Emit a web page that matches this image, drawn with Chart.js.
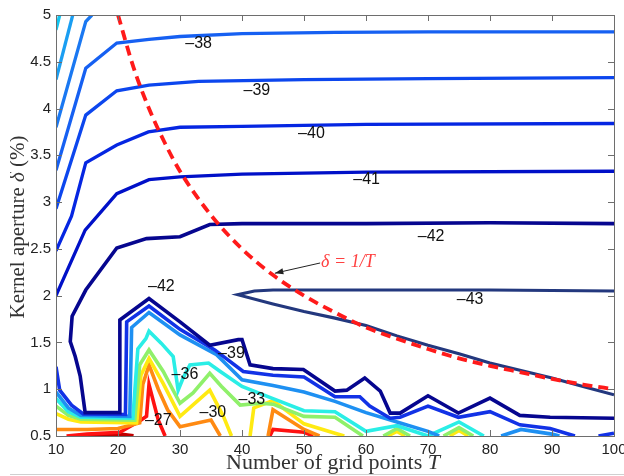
<!DOCTYPE html>
<html>
<head>
<meta charset="utf-8">
<script src="https://cdn.jsdelivr.net/npm/chart.js@4.4.1/dist/chart.umd.min.js"></script>
<style>
  html, body { margin: 0; padding: 0; background: #fff; }
  #wrap { width: 624px; height: 476px; position: relative; }
</style>
</head>
<body>
<div id="wrap"><canvas id="chartjs"></canvas></div>
<script>
// axis ticks
const xTicks = [10, 20, 30, 40, 50, 60, 70, 80, 90, 100];
const yTicks = [0.5, 1, 1.5, 2, 2.5, 3, 3.5, 4, 4.5, 5];
const yTickLabels = ["0.5", "1", "1.5", "2", "2.5", "3", "3.5", "4", "4.5", "5"];

// contour lines, [T, delta] pairs
const fan35 = [[10, 4.84], [10.6, 5.0]];
const fan36 = [[10, 4.31], [12.7, 5.0]];
const fan37 = [[10, 3.80], [14.8, 4.93], [15.8, 5.0]];
const top38 = [[10, 3.34], [14.8, 4.43], [19.8, 4.70], [25, 4.74], [30, 4.77], [40, 4.80], [55, 4.815], [70, 4.82], [100, 4.82]];
const top39 = [[10, 2.93], [14.8, 3.93], [19.8, 4.19], [25, 4.25], [33, 4.29], [50, 4.31], [70, 4.32], [100, 4.33]];
const top40 = [[10, 2.48], [12.5, 2.85], [14.8, 3.42], [19.8, 3.61], [24.9, 3.75], [30, 3.80], [40, 3.81], [60, 3.83], [100, 3.84]];
const top41 = [[10, 2.0], [14.7, 2.70], [19.8, 3.09], [25, 3.24], [30, 3.27], [40, 3.30], [60, 3.32], [100, 3.33]];
const line42 = [[100, 0.69], [89.7, 0.70], [84.8, 0.72], [80, 0.905], [74.9, 0.745], [70, 0.93], [65.5, 0.745], [63.9, 0.745],
  [62.3, 0.98], [59.8, 1.12], [56.9, 0.99], [55, 0.98], [49.9, 1.21], [45, 1.22], [41.3, 1.26], [40, 1.53], [39.4, 1.53],
  [34.8, 1.47], [30, 1.72], [25, 1.97], [20.3, 1.74], [20.3, 0.75], [14.7, 0.75], [13.9, 1.14], [13.1, 1.35], [12.3, 1.51],
  [12.6, 1.78], [14.8, 2.06], [19.8, 2.51], [24.6, 2.61], [30, 2.63], [34.8, 2.76], [40, 2.77], [60, 2.77], [80, 2.78], [100, 2.77]];
const line43 = [[100, 2.05], [80, 2.06], [60, 2.06], [45, 2.06], [42, 2.05], [39.3, 2.01], [45, 1.91], [50, 1.83], [55, 1.76],
  [60, 1.68], [65, 1.57], [70, 1.47], [75, 1.38], [80, 1.28], [85, 1.20], [90, 1.12], [95, 1.03], [100, 0.94]];
const low41 = [[10, 1.24], [10.6, 0.99], [12.5, 0.83], [14.4, 0.735], [21.2, 0.73], [21.4, 1.72], [25, 1.89], [30, 1.64],
  [35.6, 1.42], [40.2, 1.19], [45, 1.15], [50, 1.13], [55, 0.92], [59, 0.92], [60.6, 0.82], [63.9, 0.69], [65.5, 0.70],
  [70, 0.82], [74.9, 0.70], [80, 0.76], [84.8, 0.62], [89.7, 0.58], [93.7, 0.5]];
const low41b = [[97.5, 0.5], [100, 0.53]];
const low39 = [[10, 0.97], [12, 0.80], [14, 0.72], [21.9, 0.71], [22.2, 1.66], [25, 1.82], [30, 1.58], [35.9, 1.37], [40, 1.10],
  [45, 1.04], [50, 0.97], [55, 0.87], [60, 0.75], [65, 0.65], [70, 0.55], [71.8, 0.5]];
const low39b = [[81.8, 0.5], [85, 0.57], [90, 0.52], [91.2, 0.5]];
const low36 = [[10, 0.90], [12, 0.76], [14, 0.70], [22.4, 0.69], [23.2, 1.43], [24.5, 1.54], [25, 1.62], [27, 1.49], [28.9, 1.35],
  [29.7, 0.99], [30.5, 1.12], [31.6, 1.26], [34.6, 1.28], [36.5, 1.19], [40, 1.03], [45, 0.90], [50, 0.77], [55, 0.76],
  [60, 0.55], [65, 0.61], [70, 0.5], [75, 0.65], [79, 0.5]];
const low33 = [[10, 0.82], [12, 0.72], [14, 0.68], [22.7, 0.67], [23.5, 1.26], [25, 1.42], [27.3, 1.19], [30, 0.85], [32.1, 0.96],
  [34.8, 1.17], [36.7, 1.03], [39.7, 0.83], [42.9, 0.85], [45, 0.84], [50, 0.71], [55, 0.70], [59.5, 0.5]];
const low33b = [[62.8, 0.5], [65, 0.58], [67.1, 0.5]];
const low33c = [[72.5, 0.5], [75, 0.59], [77.3, 0.5]];
const low31 = [[10, 0.74], [12, 0.68], [14, 0.65], [23, 0.64], [23.7, 1.15], [25, 1.33], [27.3, 1.06], [30, 0.71], [34.8, 0.99],
  [37, 0.71], [38.3, 0.5]];
const low31b = [[41.3, 0.5], [41.9, 0.80], [45, 0.88], [50, 0.63], [55, 0.53], [56.5, 0.5]];
const low31c = [[63.5, 0.5], [65, 0.55], [66.3, 0.5]];
const low31d = [[73.5, 0.5], [75, 0.56], [76.5, 0.5]];
const low30 = [[10, 0.57], [15, 0.57], [20, 0.58], [23.5, 0.64], [24, 1.05], [25, 1.26], [26.5, 1.0], [28, 0.78], [30, 0.6],
  [35, 0.67], [36.5, 0.5]];
const low30b = [[44.2, 0.5], [45, 0.78], [50, 0.57], [52.5, 0.5]];
const low27 = [[11.7, 0.5], [15, 0.52], [20.3, 0.54], [23.5, 0.66], [24.6, 0.71], [25, 1.05], [26.5, 0.67], [27.6, 0.5]];
const low27b = [[44.5, 0.5], [45, 0.57], [50, 0.54], [51.5, 0.5]];
const low26 = [[14, 0.5], [17, 0.52], [20, 0.52], [22.5, 0.5]];

// delta = 1/T guide
const guideT = [20, 22.5, 25, 27.5, 30, 35, 40, 45, 50, 55, 60, 65, 70, 75, 80, 85, 90, 95, 100];
const guideD = [5.0, 4.44, 4.0, 3.64, 3.33, 2.86, 2.5, 2.22, 2.0, 1.82, 1.66, 1.54, 1.43, 1.33, 1.25, 1.18, 1.11, 1.05, 1.0];

// contour labels
const labelText = ["\u201338", "\u201339", "\u201340", "\u201341", "\u201342", "\u201343", "\u201342", "\u201339", "\u201336", "\u201333", "\u201330", "\u201327"];
const labelT = [33.0, 42.4, 51.2, 60.1, 70.5, 76.8, 27.0, 38.3, 30.8, 41.6, 35.3, 26.5];
const labelD = [4.69, 4.19, 3.73, 3.24, 2.63, 1.955, 2.10, 1.38, 1.16, 0.89, 0.75, 0.665];

const noteText = "\u03b4 = 1/T";
const noteAt = [52.6, 2.36];
const arrowTip = [45.3, 2.24];

const toXY = (pts) => pts.map((p) => ({ x: p[0], y: p[1] }));

const contour = (pts, color, width) => ({
  data: toXY(pts),
  borderColor: color,
  borderWidth: width || 3.6,
  showLine: true,
  pointRadius: 0,
  tension: 0,
  fill: false,
  order: 2
});

const overlay = {
  id: "overlay",
  afterDatasetsDraw(chart) {
    const { ctx, chartArea: a, scales: { x, y } } = chart;
    ctx.save();
    // labels
    ctx.fillStyle = "#111";
    ctx.font = "16px 'Liberation Sans', Arial, sans-serif";
    ctx.textAlign = "center";
    ctx.textBaseline = "middle";
    labelText.forEach((t, i) => {
      ctx.fillText(t, x.getPixelForValue(labelT[i]), y.getPixelForValue(labelD[i]));
    });
    // annotation
    const nx = x.getPixelForValue(noteAt[0]);
    const ny = y.getPixelForValue(noteAt[1]);
    ctx.fillStyle = "#ff4040";
    ctx.font = "italic 18px 'Liberation Serif', 'Times New Roman', serif";
    ctx.textAlign = "left";
    ctx.fillText(noteText, nx + 1, ny);
    const tx = x.getPixelForValue(arrowTip[0]);
    const ty = y.getPixelForValue(arrowTip[1]);
    ctx.strokeStyle = "#222";
    ctx.fillStyle = "#222";
    ctx.lineWidth = 1;
    ctx.beginPath();
    ctx.moveTo(nx, ny + 1);
    ctx.lineTo(tx, ty);
    ctx.stroke();
    const ang = Math.atan2(ty - ny - 1, tx - nx);
    ctx.beginPath();
    ctx.moveTo(tx, ty);
    ctx.lineTo(tx - 9 * Math.cos(ang - 0.35), ty - 9 * Math.sin(ang - 0.35));
    ctx.lineTo(tx - 9 * Math.cos(ang + 0.35), ty - 9 * Math.sin(ang + 0.35));
    ctx.closePath();
    ctx.fill();

    // frame and inward ticks
    ctx.strokeStyle = "#6e6e6e";
    ctx.lineWidth = 1;
    ctx.strokeRect(a.left + 0.5, a.top + 0.5, a.right - a.left, a.bottom - a.top);
    ctx.beginPath();
    xTicks.forEach((v) => {
      const px = Math.round(x.getPixelForValue(v)) + 0.5;
      ctx.moveTo(px, a.bottom); ctx.lineTo(px, a.bottom - 6);
      ctx.moveTo(px, a.top); ctx.lineTo(px, a.top + 6);
    });
    yTicks.forEach((v) => {
      const py = Math.round(y.getPixelForValue(v)) + 0.5;
      ctx.moveTo(a.left, py); ctx.lineTo(a.left + 6, py);
      ctx.moveTo(a.right, py); ctx.lineTo(a.right - 6, py);
    });
    ctx.stroke();

    // tick labels
    ctx.fillStyle = "#222";
    ctx.font = "15px 'Liberation Sans', Arial, sans-serif";
    ctx.textAlign = "center";
    ctx.textBaseline = "top";
    xTicks.forEach((v) => ctx.fillText(String(v), x.getPixelForValue(v), a.bottom + 6));
    ctx.textAlign = "right";
    ctx.textBaseline = "middle";
    yTicks.forEach((v, i) => ctx.fillText(yTickLabels[i], a.left - 5, y.getPixelForValue(v)));

    // axis titles
    const serif = "'Liberation Serif', 'Times New Roman', serif";
    const parts = (list, size) => list.map((p) => {
      ctx.font = (p[1] ? "italic " : "") + size + "px " + serif;
      return ctx.measureText(p[0]).width;
    });
    const drawParts = (list, cx, cy, size) => {
      const w = parts(list, size);
      let sx = cx - w.reduce((s, v) => s + v, 0) / 2;
      ctx.textAlign = "left";
      list.forEach((p, i) => {
        ctx.font = (p[1] ? "italic " : "") + size + "px " + serif;
        ctx.fillText(p[0], sx, cy);
        sx += w[i];
      });
    };
    ctx.fillStyle = "#333";
    ctx.textBaseline = "alphabetic";
    drawParts([["Number of grid points ", false], ["T", true]], 333, 469, 22);
    ctx.save();
    ctx.beginPath();
    ctx.rect(10, 0, 40, 476);
    ctx.clip();
    ctx.translate(24, 227);
    ctx.rotate(-Math.PI / 2);
    drawParts([["Kernel aperture ", false], ["\u03b4", true], [" (%)", false]], 0, 0, 21);
    ctx.restore();

    // faint page rule at the very bottom
    ctx.strokeStyle = "#d0d0d0";
    ctx.beginPath();
    ctx.moveTo(10, 474.5); ctx.lineTo(624, 474.5);
    ctx.stroke();
    ctx.restore();
  }
};

const chartElem = document.getElementById("chartjs");
const chart = new Chart(chartElem, {
  type: "scatter",
  data: {
    datasets: [
      {
        data: guideT.map((t, i) => ({ x: t, y: guideD[i] })),
        borderColor: "#ff1a1a",
        borderWidth: 3.8,
        borderDash: [10, 6],
        showLine: true,
        pointRadius: 0,
        cubicInterpolationMode: "monotone",
        fill: false,
        order: 1
      },
      contour(fan35, "#12c6f2", 3.3),
      contour(fan36, "#1a9ef2", 3.3),
      contour(fan37, "#1a78f2", 3.3),
      contour(top38, "#1660f2", 3.3),
      contour(top39, "#0c46ee", 3.3),
      contour(top40, "#0526e2", 3.3),
      contour(top41, "#0010c8", 3.3),
      contour(line42, "#06068f", 3.6),
      contour(line43, "#23387e", 3.1),
      contour(low41, "#1232e6"),
      contour(low41b, "#1232e6"),
      contour(low39, "#1e90f2"),
      contour(low39b, "#1e90f2"),
      contour(low36, "#2aeee6"),
      contour(low33, "#8ff06a"),
      contour(low33b, "#8ff06a"),
      contour(low33c, "#8ff06a"),
      contour(low31, "#ffea12"),
      contour(low31b, "#ffea12"),
      contour(low31c, "#ffea12"),
      contour(low31d, "#ffea12"),
      contour(low30, "#ff8a12"),
      contour(low30b, "#ff8a12"),
      contour(low27, "#ff1212"),
      contour(low27b, "#ff1212"),
      contour(low26, "#c00000", 4.2)
    ]
  },
  options: {
    responsive: true,
    maintainAspectRatio: false,
    animation: false,
    layout: { padding: { left: 56, top: 15, right: 10, bottom: 40 } },
    plugins: { legend: { display: false }, tooltip: { enabled: false } },
    scales: {
      x: { type: "linear", min: 10, max: 100, display: false },
      y: { type: "linear", min: 0.5, max: 5, display: false }
    }
  },
  plugins: [overlay]
});
</script>
</body>
</html>
